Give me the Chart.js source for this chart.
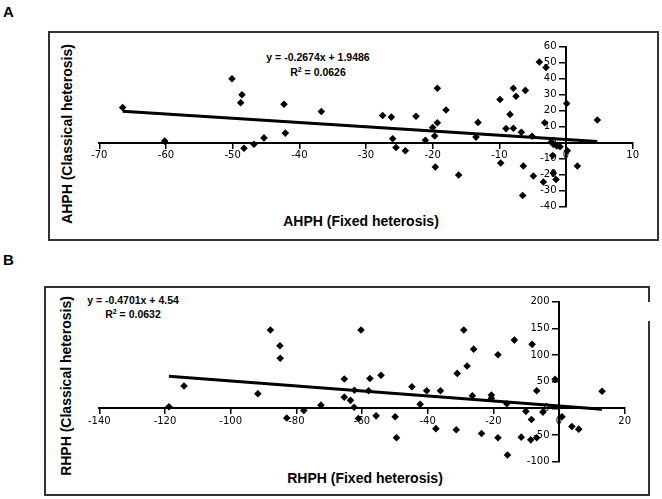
<!DOCTYPE html>
<html>
<head>
<meta charset="utf-8">
<script src="https://cdn.jsdelivr.net/npm/chart.js@4.4.0/dist/chart.umd.min.js"></script>
<style>
  html, body { margin:0; padding:0; background:#fff; }
  body { width:662px; height:499px; position:relative; overflow:hidden; font-family:"Liberation Sans", Arial, sans-serif; color:#000; }
  .box { position:absolute; box-sizing:border-box; border:2px solid #333; }
  .panel { position:absolute; font-weight:bold; font-size:15px; line-height:15px; }
  .t { position:absolute; white-space:nowrap; transform:translate(-50%,-50%); line-height:1; }
  .eq { font-weight:bold; font-size:10.5px; }
  .xt { font-size:14px; font-weight:bold; }
  .yt { font-size:14px; font-weight:bold; transform:translate(-50%,-50%) rotate(-90deg); }
  canvas { position:absolute; left:0; }
  sup { font-size:7px; vertical-align:4px; line-height:0; }
</style>
</head>
<body>
<div class="panel" style="left:3px;top:4px;">A</div>
<div class="panel" style="left:3px;top:252px;">B</div>
<div class="box" style="left:48px;top:31px;width:611px;height:210px;"></div>
<div class="box" style="left:44px;top:286px;width:606px;height:210px;"></div>
<div style="position:absolute;left:646px;top:302px;width:6px;height:19px;background:#fff;"></div>

<div class="t eq" style="left:318px;top:57px;">y = -0.2674x + 1.9486</div>
<div class="t eq" style="left:318px;top:72px;">R<sup>2</sup> = 0.0626</div>
<div class="t xt" style="left:361px;top:221px;">AHPH (Fixed heterosis)</div>
<div class="t yt" style="left:67px;top:134px;">AHPH (Classical heterosis)</div>

<div class="t eq" style="left:133px;top:300px;">y = -0.4701x + 4.54</div>
<div class="t eq" style="left:133px;top:314px;">R<sup>2</sup> = 0.0632</div>
<div class="t xt" style="left:365px;top:478px;">RHPH (Fixed heterosis)</div>
<div class="t yt" style="left:66px;top:386px;">RHPH (Classical heterosis)</div>

<canvas id="cA" width="662" height="260" style="top:0px;"></canvas>
<canvas id="cB" width="662" height="239" style="top:260px;"></canvas>

<script>
// ---------- Panel A data (AHPH) ----------
const aFixed = [-66.5,-60.2,-50.1,-48.6,-48.8,-48.3,-46.8,-45.3,-42.3,-42.1,-36.7,-27.5,-26.2,-26,-25.5,-24.1,-22.5,-21.1,-20,-19.3,-19.3,-19.7,-19.6,-18,-16.1,-13.5,-13.2,-9.9,-9.8,-9,-8.4,-7.9,-7.9,-7.5,-6.1,-6.7,-6.4,-6.5,-5.1,-4.9,-4,-3,-3.2,-3.4,-1.9,-2,-1.5,-1.9,-1.4,-0.9,-2.2,0.1,0.2,1.7,4.7];
const aClassical = [22,1,40,30,25,-3.5,-1,3,24,6,19.5,17,16,2.5,-3,-5,16.5,1.5,9.5,34,12.5,4.2,-15.2,20.4,-20.2,3.5,12.7,27,-12.7,8.8,17.7,34,9,29,32.7,6.5,-14.6,-33,4,-20.8,50.4,47,12.5,-24.6,-19,-8,-23,-1,-2,-2.5,0.5,24.5,-5,-14.6,14.2];
const aSlope = -0.2674, aIntercept = 1.9486;
const aXTicks = [-70,-60,-50,-40,-30,-20,-10,0,10];
const aYTicks = [-40,-30,-20,-10,0,10,20,30,40,50,60];

// ---------- Panel B data (RHPH) ----------
const bFixed = [-118.8,-114.2,-91.7,-87.9,-85,-84.9,-82.9,-77.7,-72.5,-65.4,-65.4,-63.5,-62.4,-62.3,-61.1,-60.3,-57.6,-58,-55.7,-54.2,-49.9,-49.5,-44.8,-42.3,-40.3,-37.5,-36.1,-31.3,-31,-29,-28,-26,-26.4,-23.6,-20.6,-20.6,-18.6,-18.6,-15.7,-15.9,-13.6,-11.5,-10.1,-8.6,-8.4,-8.2,-6.8,-6.8,-4.9,-1.2,0.9,3.9,6,13.1];
const bClassical = [3,42,27.5,147,117.5,94,-18,-4,6,55,21,15,2,34,-19,147,56,33,-14,62,-15.6,-55,40.6,7.5,33,-38,33,-40,65.6,147,79.4,111,23.75,-47,25,19,-55,100.6,-87.5,8.75,128,-54,-5.6,-59,-21,120,33,-55,-7,54.4,-15.6,-34,-39,32];
const bSlope = -0.4701, bIntercept = 4.54;
const bXTicks = [-140,-120,-100,-80,-60,-40,-20,0,20];
const bYTicks = [-100,-50,0,50,100,150,200];

function makeChart(id, xs, ys, slope, intercept, xTicks, yTicks, pad) {
  const pts = xs.map((x, i) => ({ x: x, y: ys[i] }));
  const xMin = Math.min(...xs), xMax = Math.max(...xs);
  const trend = [xMin, xMax].map(x => ({ x: x, y: slope * x + intercept }));
  const tickFont = { family: 'DejaVu Sans', size: 10 };
  const axisCommon = {
    type: 'linear',
    grid: { drawOnChartArea: false, drawTicks: true, tickLength: 5, color: '#000', lineWidth: 1.5 },
    border: { display: true, color: '#000', width: 2 },
    ticks: { font: tickFont, color: '#000', padding: 2, autoSkip: false, maxRotation: 0 }
  };
  return new Chart(document.getElementById(id), {
    type: 'scatter',
    data: {
      datasets: [
        { type: 'line', data: trend, borderColor: '#000', borderWidth: 3, pointRadius: 0, fill: false, order: 0 },
        { data: pts, pointStyle: 'rectRot', pointRadius: 3.8, pointHoverRadius: 3.8,
          backgroundColor: '#000', borderColor: '#000', borderWidth: 0, order: 1 }
      ]
    },
    options: {
      responsive: false, animation: false, devicePixelRatio: 1,
      layout: { padding: pad },
      plugins: { legend: { display: false }, tooltip: { enabled: false } },
      scales: {
        x: Object.assign({}, axisCommon, {
          min: xTicks[0], max: xTicks[xTicks.length - 1], position: { y: 0 },
          afterBuildTicks: s => { s.ticks = xTicks.map(v => ({ value: v })); }
        }),
        y: Object.assign({}, axisCommon, {
          min: yTicks[0], max: yTicks[yTicks.length - 1], position: { x: 0 },
          grid: Object.assign({}, axisCommon.grid, { tickLength: 6 }),
          ticks: Object.assign({}, axisCommon.ticks, { padding: 6, callback: v => v + '   ' }),
          afterBuildTicks: s => { s.ticks = yTicks.map(v => ({ value: v })); }
        })
      }
    }
  });
}

makeChart('cA', aFixed, aClassical, aSlope, aIntercept, aXTicks, aYTicks,
  { left: 99.3, right: 29.3, top: 46.7, bottom: 53.3 });
makeChart('cB', bFixed, bClassical, bSlope, bIntercept, bXTicks, bYTicks,
  { left: 99.3, right: 37.3, top: 41.7, bottom: 37.3 });
</script>
</body>
</html>
